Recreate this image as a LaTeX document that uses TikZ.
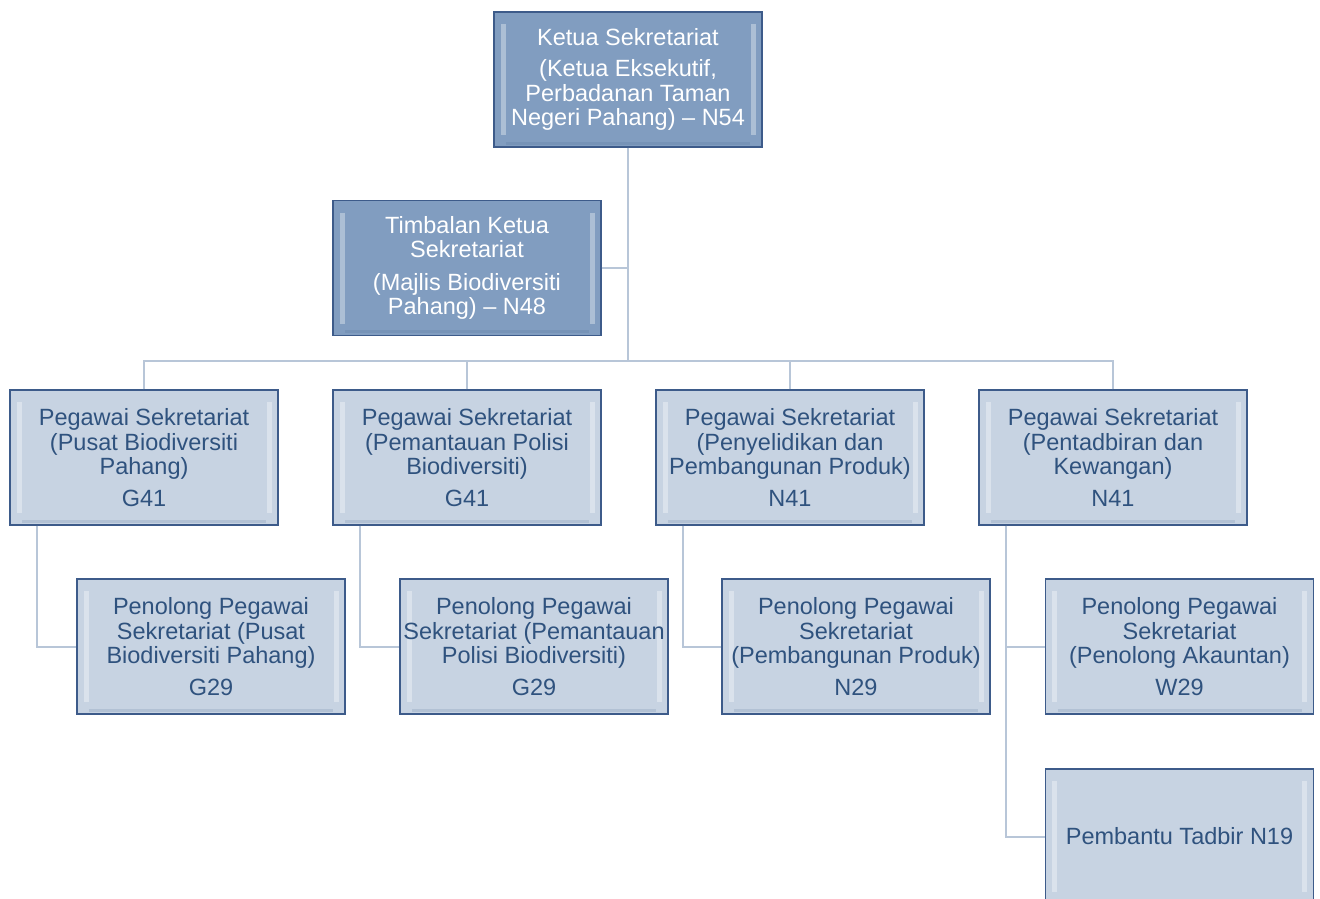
\documentclass[tikz,border=0pt]{standalone}
\usepackage{fontspec}
\setmainfont{Liberation Sans}
\definecolor{darkfill}{HTML}{819DC0}
\definecolor{lightfill}{HTML}{C7D3E2}
\definecolor{boxborder}{HTML}{3D5B8A}
\definecolor{darktext}{HTML}{2F527E}
\definecolor{linkcol}{HTML}{B8C6D8}
\tikzset{
  orgbox/.style={draw=boxborder, line width=1.4pt, minimum width=268pt, minimum height=135pt,
    inner sep=0pt, align=center, font=\fontsize{23.5}{24.5}\selectfont,
    path picture={
      \draw[white, opacity=0.35, line width=5pt]
        ([xshift=9pt,yshift=-12pt]path picture bounding box.north west) --
        ([xshift=9pt,yshift=12pt]path picture bounding box.south west);
      \draw[white, opacity=0.35, line width=5pt]
        ([xshift=-9pt,yshift=-12pt]path picture bounding box.north east) --
        ([xshift=-9pt,yshift=12pt]path picture bounding box.south east);
      \draw[boxborder, opacity=0.15, line width=3pt]
        ([xshift=12pt,yshift=4pt]path picture bounding box.south west) --
        ([xshift=-12pt,yshift=4pt]path picture bounding box.south east);
    }},
  headbox/.style={orgbox, fill=darkfill, text=white},
  unitbox/.style={orgbox, fill=lightfill, text=darktext},
  link/.style={draw=linkcol, line width=2pt}
}
\begin{document}
\begin{tikzpicture}[x=1pt,y=-1pt]
\useasboundingbox (0,0) rectangle (1320,899);
\fill[white] (0,0) rectangle (1320,899);

\coordinate (bus) at (628,361);

\node[headbox] (top) at (628,79.5) {Ketua Sekretariat\\[7pt](Ketua Eksekutif,\\Perbadanan Taman\\Negeri Pahang) -- N54};
\node[headbox] (tim) at (467,268) {Timbalan Ketua\\Sekretariat\\[8pt](Majlis Biodiversiti\\Pahang) -- N48};

\node[unitbox] (p1) at (144,457.5) {Pegawai Sekretariat\\(Pusat Biodiversiti\\Pahang)\\[7pt]G41};
\node[unitbox] (p2) at (467,457.5) {Pegawai Sekretariat\\(Pemantauan Polisi\\Biodiversiti)\\[7pt]G41};
\node[unitbox] (p3) at (790,457.5) {Pegawai Sekretariat\\(Penyelidikan dan\\Pembangunan Produk)\\[7pt]N41};
\node[unitbox] (p4) at (1113,457.5) {Pegawai Sekretariat\\(Pentadbiran dan\\Kewangan)\\[7pt]N41};

\node[unitbox] (q1) at (211,646.5) {Penolong Pegawai\\Sekretariat (Pusat\\Biodiversiti Pahang)\\[7pt]G29};
\node[unitbox] (q2) at (534,646.5) {Penolong Pegawai\\Sekretariat (Pemantauan\\Polisi Biodiversiti)\\[7pt]G29};
\node[unitbox] (q3) at (856,646.5) {Penolong Pegawai\\Sekretariat\\(Pembangunan Produk)\\[7pt]N29};
\node[unitbox] (q4) at (1179.5,646.5) {Penolong Pegawai\\Sekretariat\\(Penolong Akauntan)\\[7pt]W29};
\node[unitbox] (q5) at (1179.5,836.5) {Pembantu Tadbir N19};

\path[link] (top.south) -- (bus);
\path[link] (tim.east) -- (tim.east -| bus);
\path[link] (p1.north) |- (bus);
\path[link] (p4.north) |- (bus);
\path[link] (p2.north) -- (p2.north |- bus);
\path[link] (p3.north) -- (p3.north |- bus);

\path[link] ([xshift=-107pt]p1.south) |- (q1.west);
\path[link] ([xshift=-107pt]p2.south) |- (q2.west);
\path[link] ([xshift=-107pt]p3.south) |- (q3.west);
\path[link] ([xshift=-107pt]p4.south) |- (q4.west);
\path[link] ([xshift=-107pt]p4.south) |- (q5.west);
\end{tikzpicture}
\end{document}
